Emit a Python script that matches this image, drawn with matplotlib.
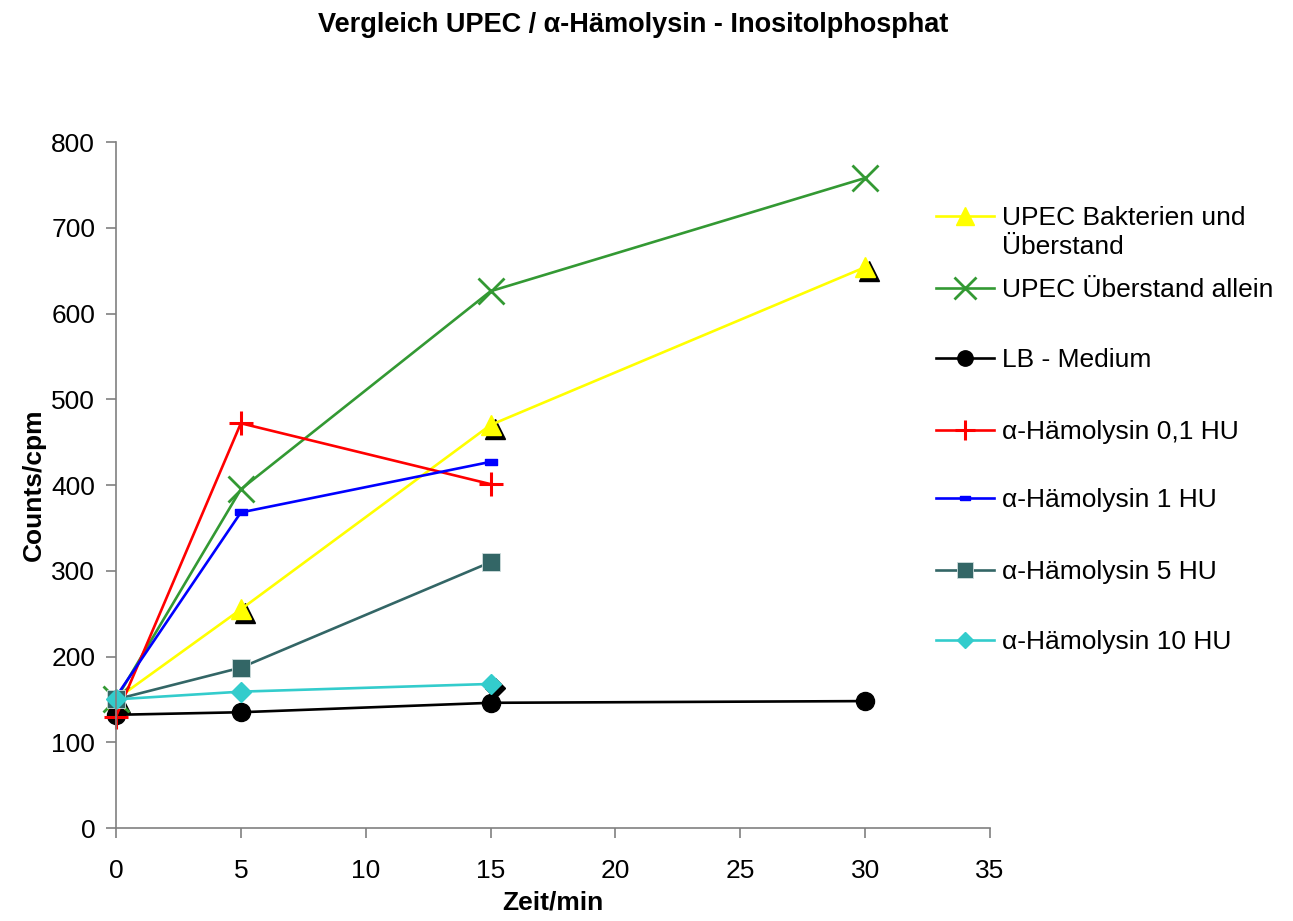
import matplotlib
matplotlib.use("Agg")
import matplotlib.pyplot as plt
from matplotlib.transforms import ScaledTranslation
from matplotlib.lines import Line2D

plt.rcParams['font.family'] = ['Liberation Sans', 'DejaVu Sans']

# Measurement times (min) and counts per series
t_full = [0, 5, 15, 30]
t_short = [0, 5, 15]

upec_bakt = [150, 255, 470, 654]
upec_ueber = [150, 395, 626, 758]
lb_medium = [132, 135, 146, 148]
hly_01 = [130, 472, 401]
hly_1 = [153, 368, 427]
hly_5 = [150, 187, 310]
hly_10 = [150, 159, 168]

labels = ["UPEC Bakterien und", "UPEC Überstand allein", "LB - Medium",
          "α-Hämolysin 0,1 HU", "α-Hämolysin 1 HU", "α-Hämolysin 5 HU",
          "α-Hämolysin 10 HU"]
label_cont = "Überstand"

x_ticks = [0, 5, 10, 15, 20, 25, 30, 35]
y_ticks = [0, 100, 200, 300, 400, 500, 600, 700, 800]

fig = plt.figure(figsize=(12.93, 9.21), dpi=100)
ax = fig.add_axes([116 / 1293, 1 - 828 / 921, (990 - 116) / 1293, (828 - 142) / 921])

dash = [(-1, -0.42), (1, -0.42), (1, 0.42), (-1, 0.42), (-1, -0.42)]
shadow = ax.transData + ScaledTranslation(4 / 100, -4 / 100, fig.dpi_scale_trans)

series = [
    (t_full, upec_bakt, dict(color='#FFFF00', marker='^', markersize=15, mec='#FFFF00')),
    (t_full, upec_ueber, dict(color='#339933', marker='x', markersize=19, mew=2)),
    (t_full, lb_medium, dict(color='#000000', marker='o', markersize=13)),
    (t_short, hly_01, dict(color='#FF0000', marker='+', markersize=17, mew=2.2)),
    (t_short, hly_1, dict(color='#0000FF', marker=dash, markersize=9)),
    (t_short, hly_5, dict(color='#336666', marker='s', markersize=13, mec='#cfdede', mew=0.6)),
    (t_short, hly_10, dict(color='#33CCCC', marker='D', markersize=10)),
]

handles = []
for i, (xs, ys, st) in enumerate(series):
    if i == 0:
        ax.plot(xs, ys, linestyle='none', marker='^', markersize=15, color='black',
                transform=shadow, clip_on=False)
    if i == 6:
        ax.plot(xs, ys, linestyle='none', marker='D', markersize=10, color='black',
                transform=shadow, clip_on=False, markevery=[2])
    ln, = ax.plot(xs, ys, linewidth=1.9, clip_on=False, **st)
    handles.append(ln)

ax.set_xlim(0, 35)
ax.set_ylim(0, 800)
ax.set_xticks(x_ticks)
ax.set_yticks(y_ticks)
for s in ['top', 'right']:
    ax.spines[s].set_visible(False)
for s in ['left', 'bottom']:
    ax.spines[s].set_color('#808080')
    ax.spines[s].set_linewidth(1.2)
ax.tick_params(axis='both', direction='out', length=7, width=1.2, color='#808080',
               labelsize=19)
ax.tick_params(axis='y', pad=8)
ax.tick_params(axis='x', pad=15)

ax.set_xlabel("Zeit/min", fontsize=19, fontweight='bold', labelpad=6)
ax.set_ylabel("Counts/cpm", fontsize=19, fontweight='bold', labelpad=4)
fig.text(633 / 1293, 1 - 25 / 921, "Vergleich UPEC / α-Hämolysin - Inositolphosphat",
         ha='center', va='center', fontsize=19.5, fontweight='bold')

# legend entries stacked at fixed rows on the right
rows = [218, 290, 360, 432, 500, 572, 642]
legends = []
for h, lab, yr in zip(handles, labels, rows):
    lh = Line2D([], [], color=h.get_color(), linewidth=1.9, marker=h.get_marker(),
                markersize=h.get_markersize() * 0.85, mew=h.get_markeredgewidth(),
                mec=h.get_markeredgecolor(), mfc=h.get_markerfacecolor())
    leg = fig.legend(handles=[lh], labels=[lab], loc='center left',
                     bbox_to_anchor=(936 / 1293, 1 - yr / 921), frameon=False,
                     fontsize=19, handlelength=2.2, handletextpad=0.3, borderpad=0,
                     borderaxespad=0)
    legends.append(leg)

# second line of the first legend label, aligned with its text
fig.canvas.draw()
bb = legends[0].get_texts()[0].get_window_extent()
fig.text(bb.x0 / fig.bbox.width, 1 - 247 / 921, label_cont, ha='left', va='center',
         fontsize=19)

fig.savefig("out.png", dpi=100)
